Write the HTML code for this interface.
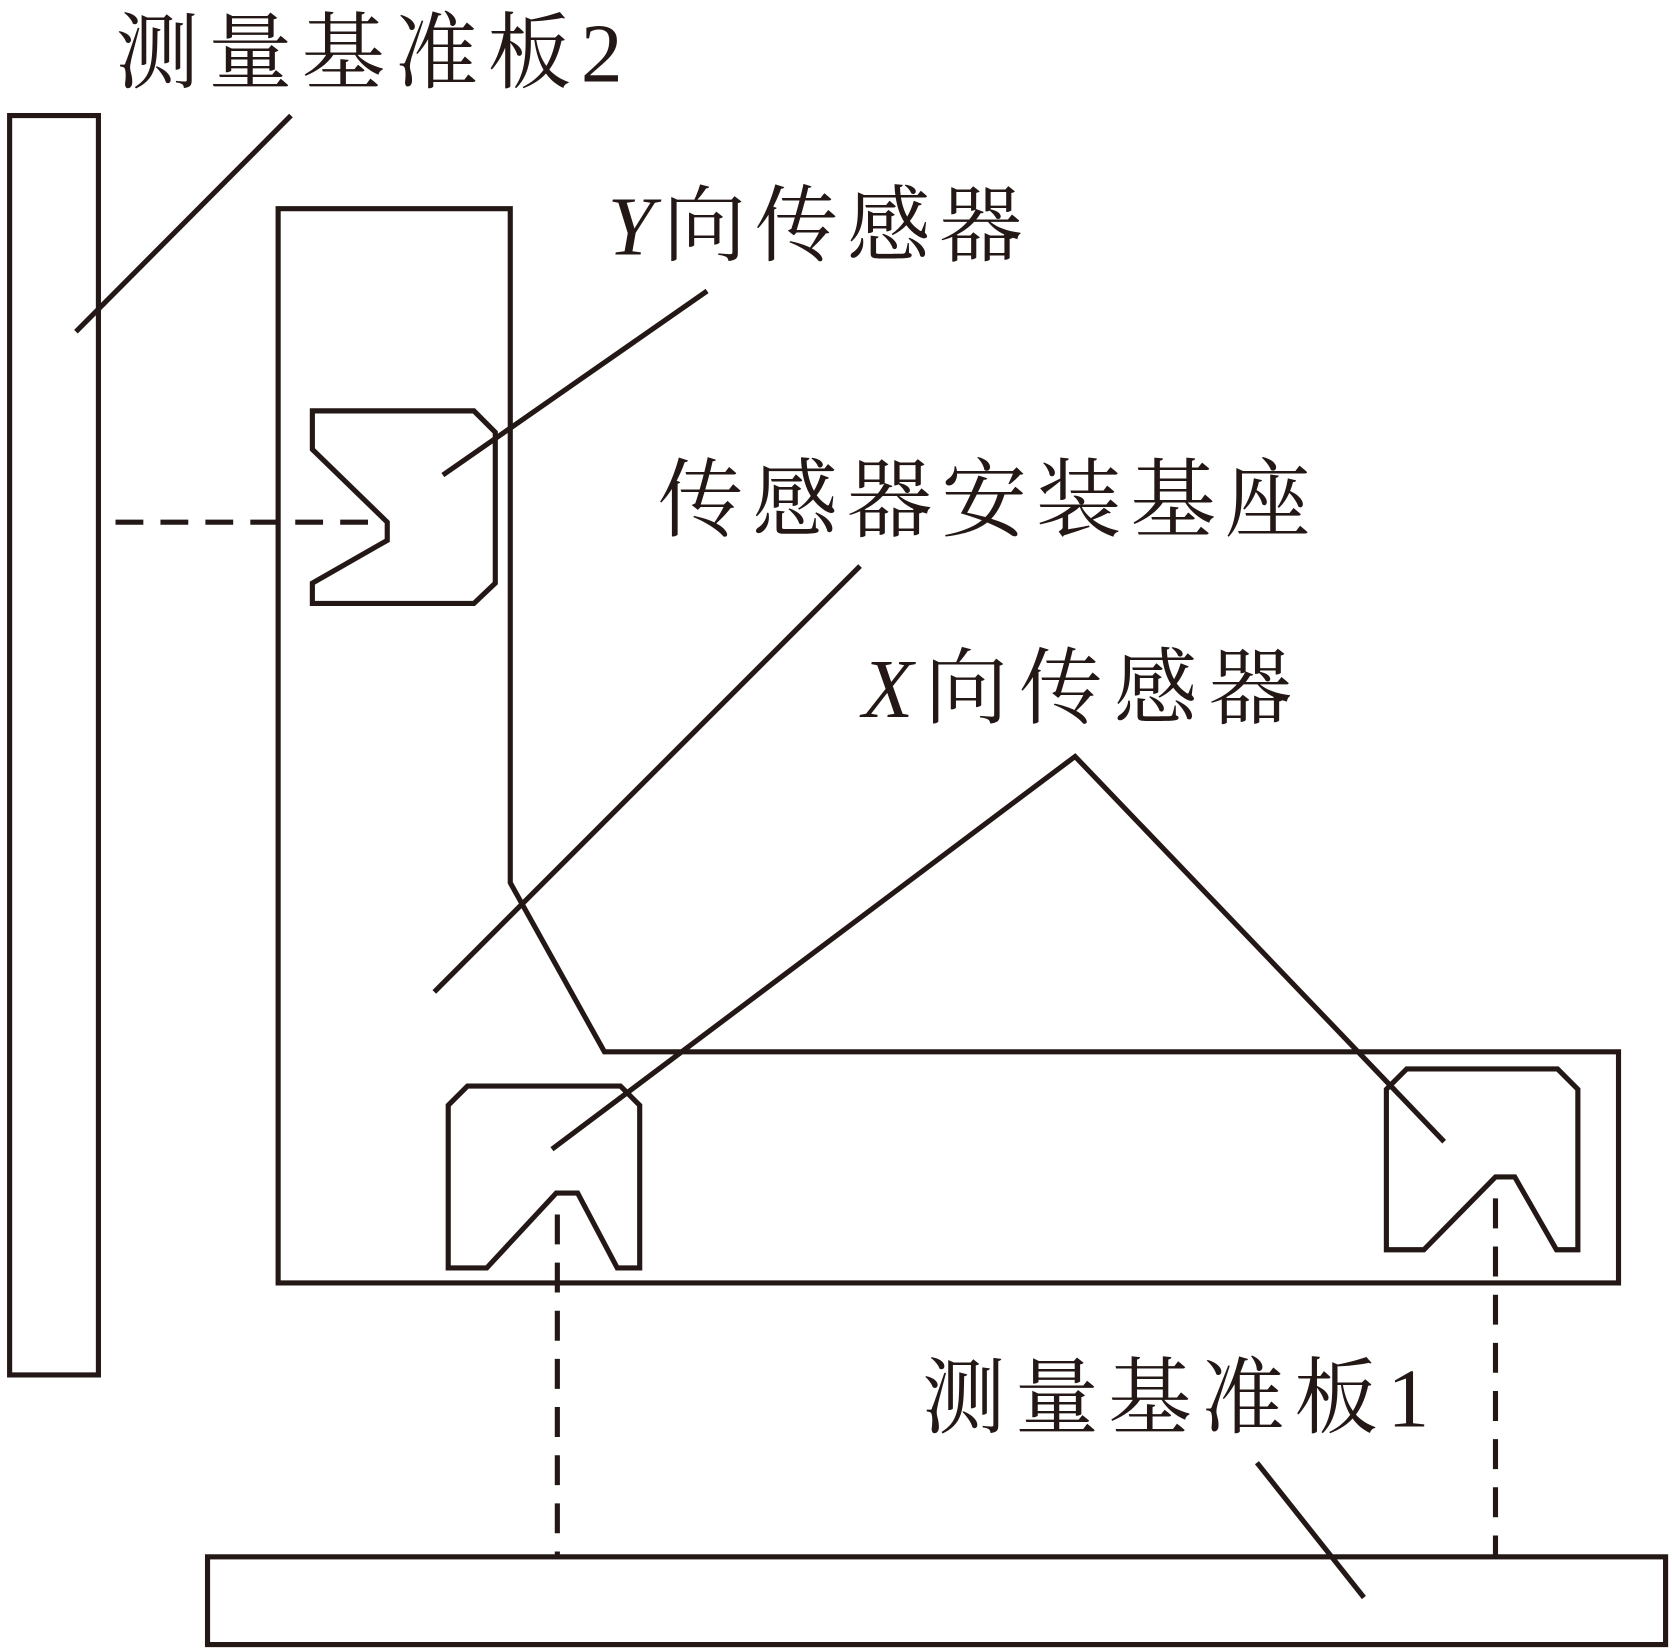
<!DOCTYPE html>
<html><head><meta charset="utf-8"><style>
html,body{margin:0;padding:0;background:#fff;}
svg{display:block;}
text{font-family:"Liberation Serif","Noto Serif CJK SC",serif;fill:#231815;}
</style></head><body>
<svg width="1672" height="1651" viewBox="0 0 1563 1543" preserveAspectRatio="none" xmlns="http://www.w3.org/2000/svg">
<g fill="none" stroke="#231815" stroke-width="4.8" stroke-linejoin="miter">
<rect x="9" y="108" width="83" height="1177"/>
<line x1="272" y1="108" x2="71" y2="310"/>
<polygon points="260,195 477,195 477,825 565,983 1513,983 1513,1199 260,1199"/>
<polygon points="292,384 443,384 463,404 463,545 443,564 292,564 292,545 362,505 362,488 292,420"/>
<line x1="661" y1="272" x2="414" y2="444"/>
<line x1="108" y1="488" x2="362" y2="488" stroke-dasharray="26,16"/>
<line x1="804" y1="529" x2="406" y2="927"/>
<polyline points="516,1074 1005,707 1350,1067"/>
<polygon points="437,1015 580,1015 598,1033 598,1185 577,1185 540,1115 520,1115 455,1185 419,1185 419,1033"/>
<polygon points="1315,999 1456,999 1475,1018 1475,1168 1455,1168 1416,1100 1398,1100 1331,1168 1296,1168 1296,1018"/>
<line x1="521" y1="1135" x2="521" y2="1455" stroke-dasharray="28,17"/>
<line x1="1398" y1="1120" x2="1398" y2="1455" stroke-dasharray="28,17"/>
<rect x="194" y="1455" width="1363" height="82"/>
<line x1="1175" y1="1367" x2="1275" y2="1493"/>
</g>
<text x="108" y="76" font-size="78" textLength="474" lengthAdjust="spacing">测量基准板2</text>
<text x="568" y="238" font-size="78" textLength="388" lengthAdjust="spacing"><tspan font-style="italic">Y</tspan>向传感器</text>
<text x="615" y="495" font-size="80" textLength="610" lengthAdjust="spacing">传感器安装基座</text>
<text x="806" y="670" font-size="78" textLength="402" lengthAdjust="spacing"><tspan font-style="italic">X</tspan>向传感器</text>
<text x="862" y="1333" font-size="78" textLength="474" lengthAdjust="spacing">测量基准板1</text>
</svg>
</body></html>
